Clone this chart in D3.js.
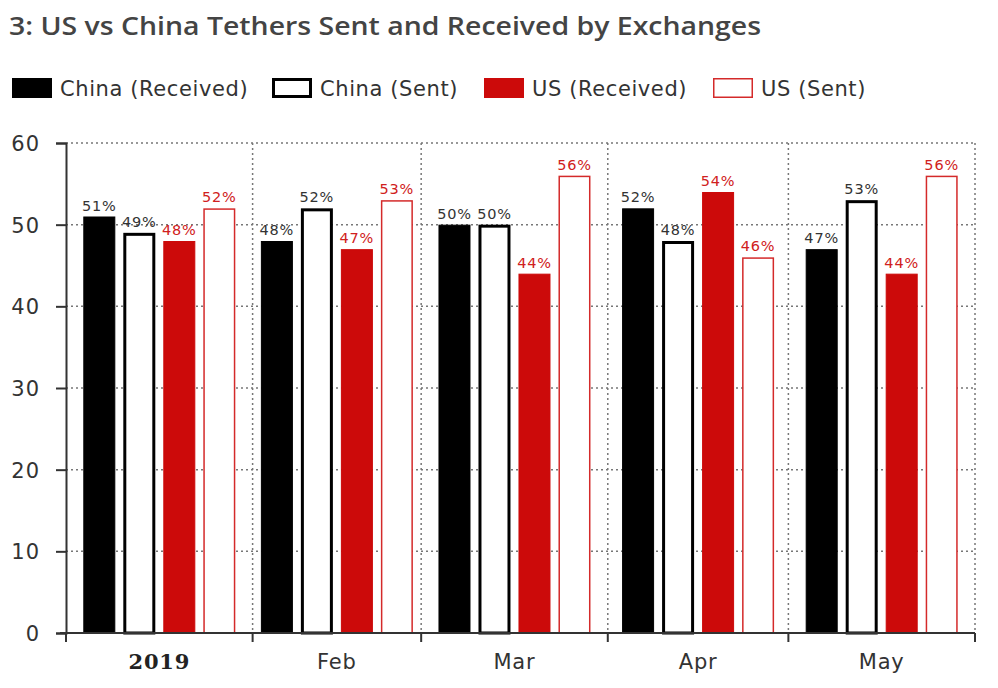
<!DOCTYPE html>
<html><head><meta charset="utf-8">
<script src="https://cdn.jsdelivr.net/npm/d3@7"></script>
<style>
body{margin:0;background:#fff;}
svg{display:block;}
</style></head>
<body>
<svg id="chart" width="998" height="688"></svg>
<script>
const title = "3: US vs China Tethers Sent and Received by Exchanges";
const months = ["2019-01-01","2019-02-01","2019-03-01","2019-04-01","2019-05-01"];
const monthLabels = ["2019","Feb","Mar","Apr","May"];
const seriesNames = ["China (Received)","China (Sent)","US (Received)","US (Sent)"];
const chinaReceived = [51,48,50,52,47];
const chinaSent = [49,52,50,48,53];
const usReceived = [48,47,44,54,44];
const usSent = [52,53,56,46,56];
const yTicks = [0,10,20,30,40,50,60];

const values = [chinaReceived, chinaSent, usReceived, usSent];
const RED = "#cc0a0a";
const FONT = "'DejaVu Sans', Verdana, sans-serif";
const styles = [
  {fill:"#000", stroke:"#000", sw:1, lab:"#333"},
  {fill:"#fff", stroke:"#000", sw:3, lab:"#333"},
  {fill:RED, stroke:RED, sw:1, lab:"#d02020"},
  {fill:"#fff", stroke:"#d42a2a", sw:1.5, lab:"#d02020"}
];

const svg = d3.select("#chart");
const parse = d3.utcParse("%Y-%m-%d");
const x = d3.scaleUtc().domain([parse("2019-01-01"), parse("2019-06-01")]).range([66, 975]);
const y = d3.scaleLinear().domain([0,60]).range([633,143]);
const inner = d3.scaleBand().domain(d3.range(4)).range([-76,76]).paddingInner(0.2);

const bounds = months.map(parse).concat([parse("2019-06-01")]);
const centers = months.map((m,i)=> (x(bounds[i]) + x(bounds[i+1]))/2);

// title
svg.append("text").attr("x",9).attr("y",35).text(title)
  .attr("font-family","'Open Sans', Lato, sans-serif").attr("font-weight","600")
  .attr("font-size",25).attr("fill","#444")
  .attr("textLength",752).attr("lengthAdjust","spacingAndGlyphs");

// legend
const legX = [12, 272, 484, 713];
seriesNames.forEach((n,i)=>{
  const g = svg.append("g").attr("transform",`translate(${legX[i]},78)`);
  const st = styles[i];
  const sw = i===1?3:(i===3?1.5:0);
  g.append("rect").attr("x",sw/2).attr("y",sw/2).attr("width",40-sw).attr("height",20-sw)
    .attr("fill",st.fill).attr("stroke", sw?st.stroke:"none").attr("stroke-width",sw);
  g.append("text").attr("x",48).attr("y",18).text(n)
    .attr("font-family",FONT).attr("font-size",21).attr("letter-spacing",0.6).attr("fill","#333");
});

// grid
const grid = svg.append("g");
yTicks.filter(t=>t>0).forEach(t=>{
  grid.append("line").attr("x1",66).attr("x2",975).attr("y1",y(t)).attr("y2",y(t))
    .attr("stroke","#777").attr("stroke-width",1.5).attr("stroke-dasharray","2,3");
});
bounds.slice(1).forEach(b=>{
  grid.append("line").attr("x1",x(b)).attr("x2",x(b)).attr("y1",y(60)).attr("y2",y(0))
    .attr("stroke","#777").attr("stroke-width",1.5).attr("stroke-dasharray","2,3");
});

// y axis
const yAxis = svg.append("g").attr("transform","translate(66,0)")
  .call(d3.axisLeft(y).tickValues(yTicks).tickSize(10).tickPadding(16));
yAxis.select(".domain").attr("stroke","#333").attr("stroke-width",2);
yAxis.selectAll(".tick line").attr("stroke","#333").attr("stroke-width",2);
yAxis.selectAll(".tick text").attr("font-family",FONT)
  .attr("font-size",21).attr("letter-spacing",1).attr("fill","#333").attr("dy","0.35em");

// bars
const bars = svg.append("g");
values.forEach((arr,si)=>{
  const st = styles[si];
  arr.forEach((v,mi)=>{
    const x0 = centers[mi] + inner(si);
    const w = inner.bandwidth();
    const half = st.sw/2;
    bars.append("rect").attr("x",x0+half).attr("y",y(v)+half)
      .attr("width",w-st.sw).attr("height",y(0)-y(v)-half)
      .attr("fill",st.fill).attr("stroke",st.stroke).attr("stroke-width",st.sw);
    bars.append("text").attr("x",x0+w/2).attr("y",y(v)-6).text(v+"%")
      .attr("text-anchor","middle").attr("font-family",FONT)
      .attr("font-size",14.5).attr("letter-spacing",0.8).attr("fill",st.lab);
  });
});

// x axis
const xAxis = svg.append("g").attr("transform","translate(0,633)");
xAxis.append("line").attr("x1",60).attr("x2",975).attr("y1",0).attr("y2",0)
  .attr("stroke","#333").attr("stroke-width",2);
bounds.forEach(b=>{
  xAxis.append("line").attr("x1",x(b)).attr("x2",x(b)).attr("y1",0).attr("y2",9)
    .attr("stroke","#333").attr("stroke-width",2);
});
monthLabels.forEach((l,i)=>{
  xAxis.append("text").attr("x",centers[i]).attr("y",36).text(l)
    .attr("text-anchor","middle")
    .attr("font-family", i===0 ? "'DejaVu Serif', 'Liberation Serif', serif" : FONT)
    .attr("font-weight", i===0 ? "700" : "400")
    .attr("font-size", i===0 ? 21 : 21).attr("letter-spacing",0.8)
    .attr("fill", i===0 ? "#222" : "#333");
});
</script>
</body></html>
